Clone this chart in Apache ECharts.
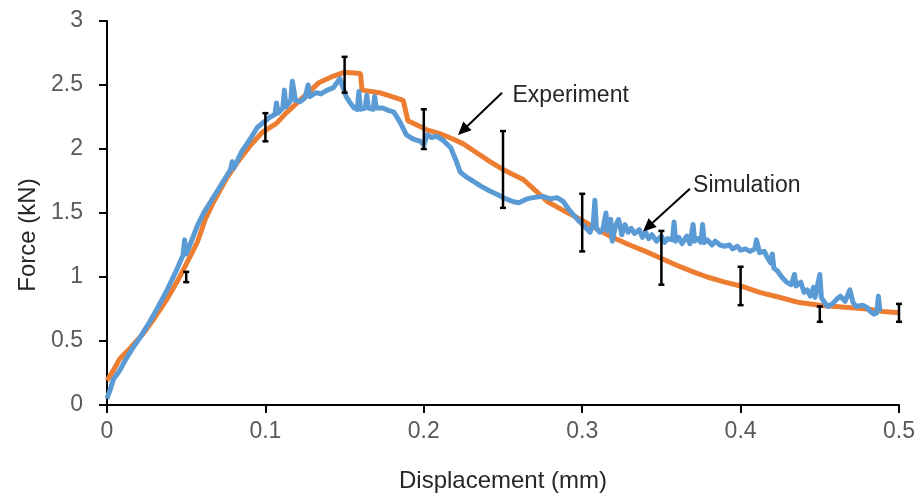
<!DOCTYPE html>
<html>
<head>
<meta charset="utf-8">
<script src="https://cdn.jsdelivr.net/npm/echarts@6/dist/echarts.min.js"></script>
<style>
  html, body { margin: 0; padding: 0; background: #fff; }
  #chart { width: 921px; height: 498px; }
</style>
</head>
<body>
<div id="chart"></div>
<script>
// force-displacement curves
var experiment = [
  [0, 0.19], [0.004, 0.27], [0.008, 0.36], [0.015, 0.45], [0.023, 0.56], [0.03, 0.68],
  [0.038, 0.83], [0.045, 0.98], [0.05, 1.1], [0.057, 1.27], [0.062, 1.45], [0.067, 1.58],
  [0.075, 1.76], [0.082, 1.89], [0.09, 2.02], [0.098, 2.13], [0.107, 2.2], [0.113, 2.28],
  [0.12, 2.36], [0.127, 2.44], [0.134, 2.52], [0.143, 2.57], [0.15, 2.6], [0.16, 2.59],
  [0.161, 2.46], [0.172, 2.44], [0.18, 2.41], [0.187, 2.38], [0.19, 2.22], [0.202, 2.15],
  [0.21, 2.12], [0.218, 2.08], [0.225, 2.04], [0.231, 1.99], [0.242, 1.9], [0.25, 1.84],
  [0.263, 1.76], [0.27, 1.68], [0.278, 1.59], [0.288, 1.52], [0.299, 1.45], [0.31, 1.37],
  [0.319, 1.31], [0.33, 1.25], [0.34, 1.2], [0.349, 1.15], [0.36, 1.09], [0.37, 1.04],
  [0.379, 1.0], [0.39, 0.96], [0.4, 0.93], [0.412, 0.88], [0.425, 0.84], [0.437, 0.8],
  [0.45, 0.78], [0.46, 0.77], [0.47, 0.76], [0.48, 0.75], [0.49, 0.73], [0.5, 0.72]
];

var simulation = [
  [0, 0.05], [0.002, 0.12], [0.004, 0.2], [0.008, 0.27], [0.012, 0.36], [0.016, 0.44],
  [0.021, 0.53], [0.027, 0.65], [0.032, 0.76], [0.038, 0.9], [0.043, 1.03], [0.048, 1.17],
  [0.049, 1.29], [0.05, 1.18], [0.053, 1.27], [0.057, 1.4], [0.061, 1.5], [0.065, 1.58],
  [0.07, 1.68], [0.074, 1.76], [0.078, 1.84], [0.079, 1.9], [0.08, 1.85], [0.085, 1.98],
  [0.09, 2.07], [0.095, 2.17], [0.1, 2.22], [0.103, 2.25], [0.106, 2.27], [0.107, 2.36],
  [0.108, 2.28], [0.111, 2.32], [0.112, 2.46], [0.113, 2.33], [0.116, 2.38], [0.117, 2.53],
  [0.119, 2.38], [0.122, 2.37], [0.125, 2.4], [0.127, 2.5], [0.128, 2.41], [0.132, 2.44],
  [0.135, 2.43], [0.139, 2.46], [0.143, 2.48], [0.147, 2.55], [0.151, 2.41], [0.153, 2.37],
  [0.156, 2.32], [0.158, 2.31], [0.159, 2.45], [0.16, 2.31], [0.163, 2.32], [0.164, 2.42],
  [0.165, 2.32], [0.168, 2.31], [0.169, 2.41], [0.17, 2.32], [0.174, 2.32], [0.178, 2.3],
  [0.181, 2.29], [0.185, 2.21], [0.189, 2.11], [0.193, 2.08], [0.198, 2.06], [0.2, 2.03],
  [0.202, 2.11], [0.205, 2.09], [0.208, 2.1], [0.212, 2.07], [0.217, 2.01], [0.22, 1.92],
  [0.223, 1.82], [0.227, 1.78], [0.231, 1.75], [0.236, 1.71], [0.242, 1.67], [0.247, 1.64],
  [0.252, 1.61], [0.256, 1.59], [0.26, 1.58], [0.265, 1.61], [0.269, 1.62], [0.275, 1.63],
  [0.28, 1.61], [0.284, 1.62], [0.288, 1.59], [0.292, 1.52], [0.297, 1.45], [0.301, 1.4],
  [0.305, 1.35], [0.307, 1.42], [0.308, 1.6], [0.309, 1.38], [0.311, 1.35], [0.313, 1.37],
  [0.315, 1.5], [0.316, 1.36], [0.318, 1.45], [0.319, 1.28], [0.321, 1.4], [0.323, 1.45],
  [0.325, 1.33], [0.327, 1.41], [0.329, 1.35], [0.331, 1.38], [0.333, 1.34], [0.336, 1.37],
  [0.338, 1.31], [0.34, 1.35], [0.342, 1.3], [0.344, 1.33], [0.347, 1.28], [0.35, 1.32],
  [0.352, 1.27], [0.354, 1.3], [0.357, 1.29], [0.358, 1.43], [0.359, 1.28], [0.361, 1.31],
  [0.363, 1.26], [0.366, 1.32], [0.368, 1.26], [0.37, 1.41], [0.371, 1.28], [0.373, 1.3],
  [0.375, 1.27], [0.376, 1.41], [0.377, 1.27], [0.379, 1.29], [0.382, 1.25], [0.384, 1.28],
  [0.387, 1.25], [0.39, 1.24], [0.393, 1.25], [0.395, 1.22], [0.398, 1.24], [0.4, 1.21],
  [0.403, 1.22], [0.406, 1.2], [0.409, 1.22], [0.41, 1.29], [0.412, 1.19], [0.415, 1.2],
  [0.417, 1.15], [0.419, 1.11], [0.42, 1.18], [0.421, 1.07], [0.423, 1.05], [0.426, 1.0],
  [0.429, 0.96], [0.432, 0.94], [0.434, 1.02], [0.435, 0.93], [0.436, 0.93], [0.438, 0.96],
  [0.44, 0.88], [0.442, 0.9], [0.444, 0.85], [0.446, 0.92], [0.447, 0.84], [0.45, 1.02],
  [0.451, 0.84], [0.453, 0.8], [0.455, 0.77], [0.458, 0.79], [0.461, 0.83], [0.463, 0.85],
  [0.466, 0.81], [0.469, 0.9], [0.471, 0.8], [0.473, 0.77], [0.477, 0.78], [0.48, 0.76],
  [0.482, 0.73], [0.484, 0.71], [0.486, 0.72], [0.487, 0.85], [0.488, 0.73]
];

// experimental scatter (error bars)
var errDisp = [0.05, 0.1, 0.15, 0.2, 0.25, 0.3, 0.35, 0.4, 0.45, 0.5];
var errHigh = [1.04, 2.28, 2.72, 2.31, 2.14, 1.65, 1.36, 1.08, 0.77, 0.79];
var errLow  = [0.96, 2.06, 2.44, 2.0, 1.54, 1.2, 0.94, 0.78, 0.65, 0.65];

var labelFont = "'Liberation Sans Narrow', 'Arial Narrow', 'Liberation Sans', sans-serif";

var errData = errDisp.map(function (x, i) { return [x, errLow[i], errHigh[i]]; });

var chart = echarts.init(document.getElementById('chart'), null, { renderer: 'canvas' });

var option = {
  backgroundColor: '#fff',
  animation: false,
  grid: { left: 107, right: 22, top: 21, bottom: 92, containLabel: false },
  xAxis: {
    type: 'value',
    min: 0, max: 0.5, interval: 0.1,
    name: 'Displacement (mm)',
    nameLocation: 'middle',
    nameGap: 64,
    nameTextStyle: { color: '#262626', fontSize: 24, fontFamily: labelFont },
    axisLine: { show: true, lineStyle: { color: '#000', width: 2 } },
    axisTick: { show: true, length: 8, lineStyle: { color: '#000', width: 2 } },
    axisLabel: { color: '#595959', fontSize: 23, fontFamily: labelFont, margin: 15 },
    splitLine: { show: false }
  },
  yAxis: {
    type: 'value',
    min: 0, max: 3, interval: 0.5,
    name: 'Force (kN)',
    nameLocation: 'middle',
    nameGap: 66,
    nameRotate: 90,
    nameTextStyle: { color: '#262626', fontSize: 24, fontFamily: labelFont, padding: [0, 44, 0, 0] },
    axisLine: { show: true, lineStyle: { color: '#000', width: 2 } },
    axisTick: { show: true, length: 8, lineStyle: { color: '#000', width: 2 } },
    axisLabel: { color: '#595959', fontSize: 23, fontFamily: labelFont, margin: 24 },
    splitLine: { show: false }
  },
  series: [
    {
      name: 'Experiment',
      type: 'line',
      data: experiment,
      showSymbol: false,
      lineStyle: { color: '#ED7D31', width: 5 },
      z: 2
    },
    {
      name: 'Simulation',
      type: 'line',
      data: simulation,
      showSymbol: false,
      lineStyle: { color: '#5B9BD5', width: 5, join: 'round' },
      z: 3
    },
    {
      name: 'Error',
      type: 'custom',
      data: errData,
      z: 4,
      renderItem: function (params, api) {
        var lo = api.coord([api.value(0), api.value(1)]);
        var hi = api.coord([api.value(0), api.value(2)]);
        var cap = 3;
        var st = { stroke: '#000', lineWidth: 2.5 };
        return {
          type: 'group',
          children: [
            { type: 'line', shape: { x1: lo[0], y1: lo[1], x2: hi[0], y2: hi[1] }, style: st },
            { type: 'line', shape: { x1: lo[0] - cap, y1: lo[1], x2: lo[0] + cap, y2: lo[1] }, style: st },
            { type: 'line', shape: { x1: hi[0] - cap, y1: hi[1], x2: hi[0] + cap, y2: hi[1] }, style: st }
          ]
        };
      }
    }
  ]
};

chart.setOption(option);

// callout labels with arrows, anchored in data coordinates
var callouts = [
  { text: 'Experiment', textAt: [0.256, 2.42], from: [0.2494, 2.44], to: [0.2216, 2.11] },
  { text: 'Simulation', textAt: [0.370, 1.71], from: [0.368, 1.69], to: [0.3384, 1.356] }
];

function arrowGraphic(c) {
  var p0 = chart.convertToPixel({ gridIndex: 0 }, c.from);
  var p1 = chart.convertToPixel({ gridIndex: 0 }, c.to);
  var pt = chart.convertToPixel({ gridIndex: 0 }, c.textAt);
  var dx = p1[0] - p0[0], dy = p1[1] - p0[1];
  var len = Math.sqrt(dx * dx + dy * dy);
  var ux = dx / len, uy = dy / len;
  var headL = 13, headW = 6;
  var bx = p1[0] - ux * headL, by = p1[1] - uy * headL;
  return [
    {
      type: 'line',
      shape: { x1: p0[0], y1: p0[1], x2: bx, y2: by },
      style: { stroke: '#000', lineWidth: 2 },
      z: 10
    },
    {
      type: 'polygon',
      shape: { points: [[p1[0], p1[1]], [bx - uy * headW, by + ux * headW], [bx + uy * headW, by - ux * headW]] },
      style: { fill: '#000' },
      z: 10
    },
    {
      type: 'text',
      x: pt[0], y: pt[1],
      style: {
        text: c.text, fill: '#262626', fontSize: 23, fontFamily: labelFont,
        align: 'left', verticalAlign: 'middle'
      },
      z: 10
    }
  ];
}

var graphics = [];
callouts.forEach(function (c) { graphics = graphics.concat(arrowGraphic(c)); });
chart.setOption({ graphic: graphics });
</script>
</body>
</html>
